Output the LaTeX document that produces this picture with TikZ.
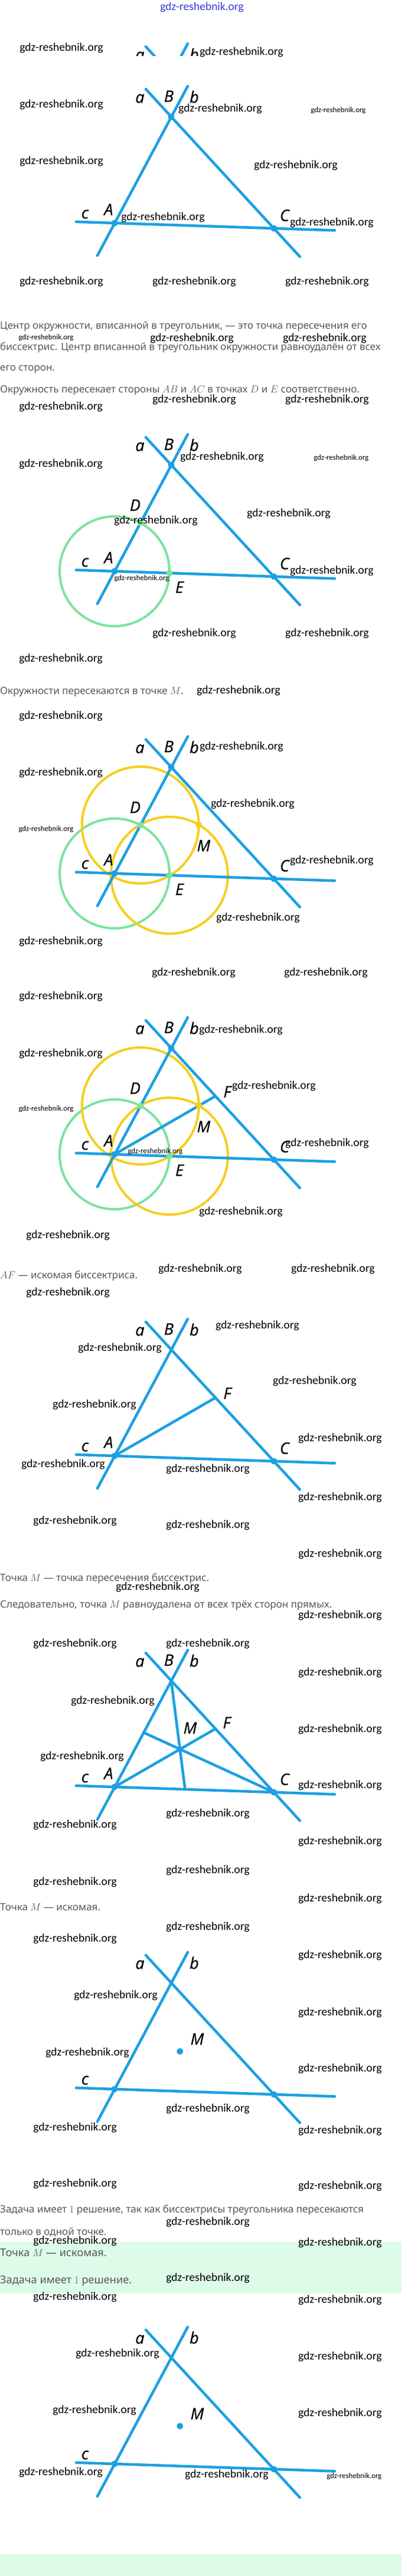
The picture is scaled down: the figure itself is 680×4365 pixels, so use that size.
\documentclass[tikz,border=0pt]{standalone}
\usepackage{fontspec}
\newfontfamily\wmfont{Carlito}
\newfontfamily\txtfont{Noto Sans}
\newfontfamily\lblfont[ItalicFeatures={FakeBold=0.6}]{Open Sans}
\definecolor{lineblue}{RGB}{28,160,226}
\definecolor{cgreen}{RGB}{125,226,160}
\definecolor{cyellow}{RGB}{246,206,30}
\definecolor{textgrey}{RGB}{88,88,88}
\definecolor{band}{RGB}{221,251,233}
\definecolor{wmblue}{RGB}{60,60,210}
\tikzset{
  ln/.style={line width=4.5pt, draw=lineblue, line cap=round},
  gcirc/.style={line width=4pt, draw=cgreen},
  ycirc/.style={line width=4pt, draw=cyellow},
  lbl/.style={font=\lblfont\itshape\fontsize{27}{27}\selectfont, inner sep=0},
  wm/.style={font=\wmfont\fontsize{19.5}{20}\selectfont, inner sep=0},
  wms/.style={font=\wmfont\fontsize{12.8}{13}\selectfont, inner sep=0},
  txt/.style={font=\txtfont\fontsize{17}{20}\selectfont, text=textgrey, anchor=west, inner sep=0},
  txtb/.style={font=\txtfont\fontsize{18.2}{20}\selectfont, text=textgrey, anchor=west, inner sep=0},
  dotb/.style={circle, fill=lineblue, minimum size=11pt, inner sep=0},
  dotg/.style={circle, fill=cgreen, minimum size=11pt, inner sep=0},
  doty/.style={circle, fill=cyellow, minimum size=11pt, inner sep=0},
}
\newcommand{\mkpoints}{%
  \coordinate (A) at (194,378); \coordinate (B) at (290,198); \coordinate (C) at (464,387);
  \coordinate (at) at (247,151); \coordinate (ab) at (508,435);
  \coordinate (bt) at (318,146); \coordinate (bb) at (165,433);
  \coordinate (cl) at (129,375.8); \coordinate (cr) at (567,390.4);
  \coordinate (D) at (237.8,296.0); \coordinate (E) at (287.0,381.1);
  \coordinate (M) at (336.8,295.6); \coordinate (F) at (364.9,279.4);
  \coordinate (I) at (304.8,314.0);
  \coordinate (Bf) at (313.5,382.0); \coordinate (Cf) at (243.2,285.7);
}
\newcommand{\mklines}{%
  \draw[ln] (at) -- (ab); \draw[ln] (bt) -- (bb); \draw[ln] (cl) -- (cr);
}
\newcommand{\mklabels}{%
  \node[lbl] (la) at (237,167) {a};
  \node[lbl] (lb) at (329,164) {b};
  \node[lbl] (lc) at (144,363) {c};
}
\newcommand{\mkABC}{%
  \node[lbl] (lB) at (286,163) {B};
  \node[lbl] (lA) at (184,355) {A};
  \node[lbl] (lC) at (482,365) {C};
}
\begin{document}
\begin{tikzpicture}[x=1pt,y=-1pt]
\useasboundingbox[fill=white] (0,0) rectangle (680,4365);
\fill[band] (0,3799) rectangle (680,3886);
\fill[band] (0,4328) rectangle (680,4365);

% top blue watermark
\node[wm, text=wmblue] (topwm) at (342,12) {gdz-reshebnik.org};

% fragment of a cut figure at top
\begin{scope}
  \clip (0,0) rectangle (680,95);
  \begin{scope}[shift={(0,-72)}]
    \mkpoints
    \draw[ln] (at) -- (ab); \draw[ln] (bt) -- (bb);
    \node[lbl] (fa) at (237,167) {a};
    \node[lbl] (fb) at (329,164) {b};
  \end{scope}
\end{scope}

% figure 1
\begin{scope}[shift={(0,0)}]
  \mkpoints \mklines
  \node[dotb] (pA1) at (A) {}; \node[dotb] (pB1) at (B) {}; \node[dotb] (pC1) at (C) {};
  \mklabels \mkABC
\end{scope}

% figure 2
\begin{scope}[shift={(0,590)}]
  \mkpoints
  \draw[gcirc] (A) circle[radius=93pt];
  \mklines
  \node[dotb] (pA2) at (A) {}; \node[dotb] (pB2) at (B) {}; \node[dotb] (pC2) at (C) {};
  \node[dotg] (pD2) at (D) {}; \node[dotg] (pE2) at (E) {};
  \mklabels \mkABC
  \node[lbl] (lD2) at (229,266) {D};
  \node[lbl] (lE2) at (304,405) {E};
\end{scope}

% figure 3
\begin{scope}[shift={(0,1102)}]
  \mkpoints
  \draw[gcirc] (A) circle[radius=93pt];
  \draw[ycirc] (D) circle[radius=99pt];
  \draw[ycirc] (E) circle[radius=99pt];
  \mklines
  \node[dotb] (pA3) at (A) {}; \node[dotb] (pB3) at (B) {}; \node[dotb] (pC3) at (C) {};
  \node[dotg] (pD3) at (D) {}; \node[dotg] (pE3) at (E) {};
  \node[doty] (pM3) at (M) {};
  \mklabels \mkABC
  \node[lbl] (lD3) at (229,266) {D};
  \node[lbl] (lE3) at (304,405) {E};
  \node[lbl] (lM3) at (345,331) {M};
\end{scope}

% figure 4
\begin{scope}[shift={(0,1578)}]
  \mkpoints
  \draw[gcirc] (A) circle[radius=93pt];
  \draw[ycirc] (D) circle[radius=99pt];
  \draw[ycirc] (E) circle[radius=99pt];
  \mklines
  \draw[ln] (A) -- (F);
  \node[dotb] (pA4) at (A) {}; \node[dotb] (pB4) at (B) {}; \node[dotb] (pC4) at (C) {};
  \node[dotg] (pD4) at (D) {}; \node[dotg] (pE4) at (E) {};
  \node[doty] (pM4) at (M) {};
  \mklabels \mkABC
  \node[lbl] (lD4) at (229,266) {D};
  \node[lbl] (lE4) at (304,405) {E};
  \node[lbl] (lM4) at (345,331) {M};
  \node[lbl] (lF4) at (385,272) {F};
\end{scope}

% figure 5
\begin{scope}[shift={(0,2089)}]
  \mkpoints \mklines
  \draw[ln] (A) -- (F);
  \node[dotb] (pA5) at (A) {}; \node[dotb] (pC5) at (C) {};
  \mklabels \mkABC
  \node[lbl] (lF5) at (385,272) {F};
\end{scope}

% figure 6
\begin{scope}[shift={(0,2650)}]
  \mkpoints \mklines
  \draw[ln] (A) -- (F);
  \draw[ln] (B) -- (Bf);
  \draw[ln] (C) -- (Cf);
  \node[dotb] (pA6) at (A) {}; \node[dotb] (pC6) at (C) {};
  \mklabels \mkABC
  \node[lbl] (lM6) at (322,278) {M};
  \node[lbl] (lF6) at (384,269) {F};
\end{scope}

% figure 7
\begin{scope}[shift={(0,3162)}]
  \mkpoints \mklines
  \node[dotb] (pA7) at (A) {}; \node[dotb] (pC7) at (C) {};
  \node[dotb] (pM7) at (I) {};
  \mklabels
  \node[lbl] (lM7) at (334,293) {M};
\end{scope}

% figure 8
\begin{scope}[shift={(0,3797)}]
  \mkpoints \mklines
  \node[dotb] (pA8) at (A) {}; \node[dotb] (pC8) at (C) {};
  \node[dotb] (pM8) at (I) {};
  \mklabels
  \node[lbl] (lM8) at (334,293) {M};
\end{scope}

% texts
\node[txt] (t1) at (0,553) {Центр окружности, вписанной в треугольник, — это точка пересечения его};
\node[txt] (t2) at (0,589) {биссектрис. Центр вписанной в треугольник окружности равноудалён от всех};
\node[txt] (t3) at (0,626) {его сторон.};
\node[txt] (t4) at (0,661) {Окружность пересекает стороны $AB$ и $AC$ в точках $D$ и $E$ соответственно.};
\node[txt] (t5) at (0,1172) {Окружности пересекаются в точке $M$.};
\node[txt] (t6) at (0,2162) {$AF$ — искомая биссектриса.};
\node[txt] (t7) at (0,2675) {Точка $M$ — точка пересечения биссектрис.};
\node[txt] (t8) at (0,2720) {Следовательно, точка $M$ равноудалена от всех трёх сторон прямых.};
\node[txt] (t9) at (0,3232) {Точка $M$ — искомая.};
\node[txt] (t10) at (0,3745) {Задача имеет $1$ решение, так как биссектрисы треугольника пересекаются};
\node[txt] (t11) at (0,3782) {только в одной точке.};
\node[txtb] (t12) at (0,3817) {Точка $M$ — искомая.};
\node[txtb] (t13) at (0,3865) {Задача имеет $1$ решение.};

% watermarks
\foreach \x/\y in {104/81,409/88,104/177,373/184,104/273,501/280,276/368,562/377,104/477,329/477,554/477,
  325/573,550/573,329/677,554/677,103/689,
  103/786,376/774,489/870,264/882,562/967,
  329/1073,554/1073,103/1116,404/1170,103/1213,409/1265,103/1309,428/1362,562/1458,437/1555,103/1595,
  328/1648,552/1648,103/1688,408/1745,103/1785,464/1840,554/1937,408/2053,115/2093,339/2150,564/2150,115/2190,436/2246,
  203/2284,533/2340,160/2380,576/2437,107/2481,352/2489,576/2537,127/2577,352/2584,576/2633,267/2689,576/2737,127/2785,352/2785,576/2834,191/2882,576/2930,
  139/2976,576/3025,352/3073,127/3092,576/3120,352/3169,127/3189,576/3217,352/3265,127/3285,576/3313,196/3381,576/3410,148/3478,576/3505,352/3573,127/3605,576/3610,
  127/3700,576/3704,352/3765,127/3797,576/3800,352/3860,127/3892,576/3897,199/3988,576/3993,160/4084,576/4089,103/4189,384/4193}
  {\node[wm] (w-\x-\y) at (\x,\y) {gdz-reshebnik.org};}
\foreach \x/\y in {573/187,78/572,578/776,240/980,78/1405,78/1879,263/1951,600/4196}
  {\node[wms] (s-\x-\y) at (\x,\y) {gdz-reshebnik.org};}
\end{tikzpicture}
\end{document}
